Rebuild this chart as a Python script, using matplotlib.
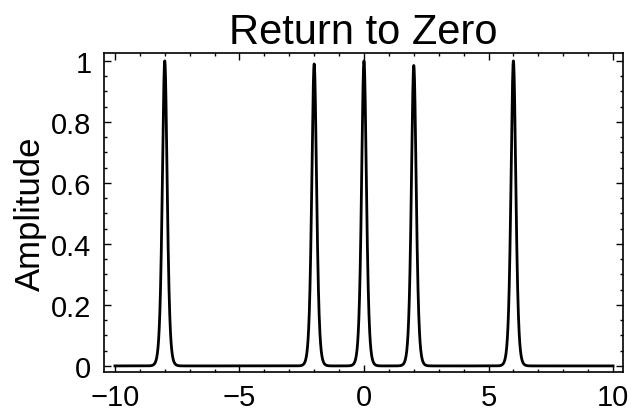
import numpy as np
import matplotlib
matplotlib.use("Agg")
import matplotlib.pyplot as plt
from matplotlib.ticker import MultipleLocator

# Data
pulse_centers = [-8, -2, 0, 2, 6]
pulse_heights = [1.0, 0.99, 1.0, 0.985, 1.0]
pulse_width = 0.13
x_range = [-10, 10]
x_ticks = [-10, -5, 0, 5, 10]
y_ticks = [0, 0.2, 0.4, 0.6, 0.8, 1.0]
y_ticklabels = ["0", "0.2", "0.4", "0.6", "0.8", "1"]

plt.rcParams['font.family'] = ['Liberation Sans', 'DejaVu Sans']

x = np.linspace(x_range[0], x_range[1], 4001)
y = np.zeros_like(x)
for c, h in zip(pulse_centers, pulse_heights):
    y += h / np.cosh((x - c) / pulse_width) ** 2

fig = plt.figure(figsize=(6.31, 4.14), dpi=100)
ax = fig.add_axes([0.1648, 0.099, 0.8225, 0.7706])
ax.plot(x, y, color='black', lw=2.0)

ax.set_xlim(-10.44, 10.4)
ax.set_ylim(-0.02, 1.026)
ax.set_xticks(x_ticks)
ax.set_xticklabels([str(t).replace('-', '\u2212') for t in x_ticks])
ax.set_yticks(y_ticks)
ax.set_yticklabels(y_ticklabels)
ax.xaxis.set_minor_locator(MultipleLocator(1))
ax.yaxis.set_minor_locator(MultipleLocator(0.05))
ax.tick_params(which='both', direction='in', top=True, right=True, labelsize=21, width=1.0, color='black')
ax.tick_params(which='major', length=5)
ax.tick_params(which='minor', length=2.5)
ax.tick_params(axis='x', pad=8)
ax.tick_params(axis='y', pad=9)
for s in ax.spines.values():
    s.set_linewidth(1.2)

ax.set_ylabel('Amplitude', fontsize=25, labelpad=3)
ax.set_title('Return to Zero', fontsize=30, pad=7)

fig.savefig('out.png', dpi=100)
